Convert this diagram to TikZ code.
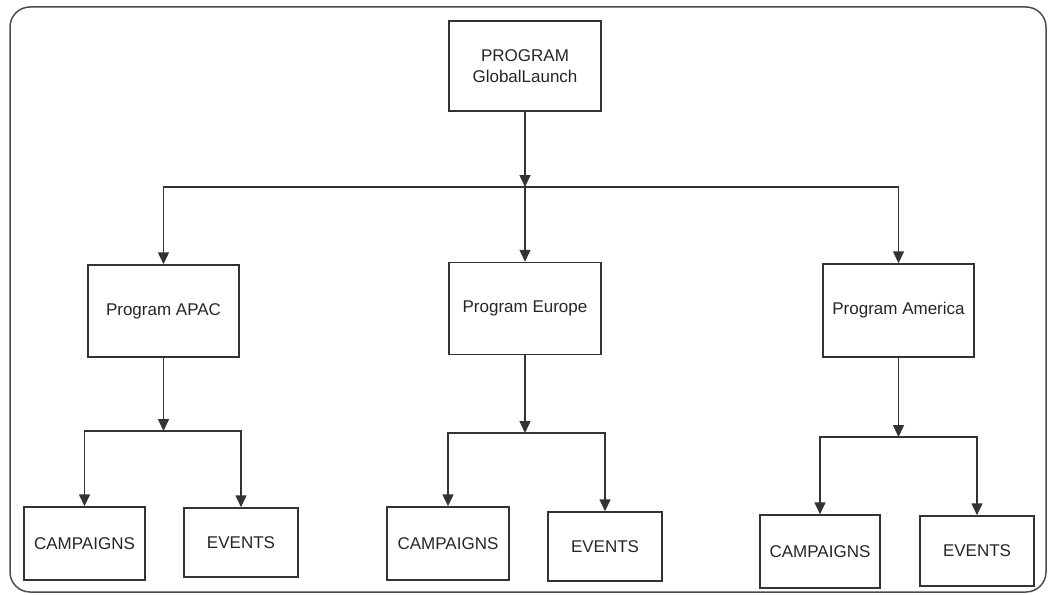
\documentclass[tikz,border=0pt]{standalone}
\usepackage{fontspec}
\setmainfont{Liberation Sans}
\usetikzlibrary{arrows.meta}
\begin{document}
\begin{tikzpicture}[x=1pt,y=-1pt,
  box/.style={draw=black!80, line width=1.5pt, fill=white, inner sep=0pt,
    align=center, font=\fontsize{17}{21}\selectfont, text=black!85},
  link/.style={draw=black!80, line width=1.5pt},
  arr/.style={link, -{Triangle[width=11pt,length=12pt]}}]
\useasboundingbox (0,0) rectangle (1051,594);
% outer frame
\draw[draw=black!70, line width=1.5pt, rounded corners=20pt] (10,7) rectangle (1046,592);

% top level
\node[box, minimum width=152pt, minimum height=90pt] (top) at (525,66)
  {PROGRAM\\GlobalLaunch};

% regional programs
\node[box, minimum width=151pt, minimum height=92pt] (apac) at (163.5,311) {Program APAC};
\node[box, minimum width=152pt, minimum height=92pt] (eur)  at (525,308.5) {Program Europe};
\node[box, minimum width=151pt, minimum height=93pt] (ame)  at (898.5,310.5) {Program America};

% leaf boxes
\node[box, minimum width=121pt, minimum height=73pt] (camp1) at (84.5,543.5) {CAMPAIGNS};
\node[box, minimum width=114pt, minimum height=69pt] (ev1)   at (241,542.5)  {EVENTS};
\node[box, minimum width=122pt, minimum height=73pt] (camp2) at (448,543.5)  {CAMPAIGNS};
\node[box, minimum width=114pt, minimum height=69pt] (ev2)   at (605,546.5)  {EVENTS};
\node[box, minimum width=120pt, minimum height=73pt] (camp3) at (820,551.5)  {CAMPAIGNS};
\node[box, minimum width=114pt, minimum height=70pt] (ev3)   at (977,551)    {EVENTS};

% junction points
\coordinate (j0) at (525,187);
\coordinate (j1) at (163.5,431);
\coordinate (j2) at (525,433);
\coordinate (j3) at (898.5,437);

% connectors
\draw[arr] (top) -- (j0);
\draw[arr] (j0) -| (apac.north);
\draw[arr] (j0) -- (eur.north);
\draw[arr] (j0) -| (ame.north);

\draw[arr] (apac) -- (j1);
\draw[arr] (j1) -| (camp1.north);
\draw[arr] (j1) -| (ev1.north);

\draw[arr] (eur) -- (j2);
\draw[arr] (j2) -| (camp2.north);
\draw[arr] (j2) -| (ev2.north);

\draw[arr] (ame) -- (j3);
\draw[arr] (j3) -| (camp3.north);
\draw[arr] (j3) -| (ev3.north);
\end{tikzpicture}
\end{document}
